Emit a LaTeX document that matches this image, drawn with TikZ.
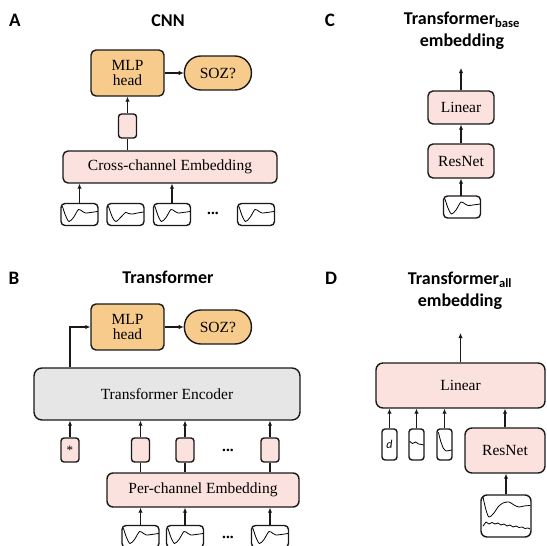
\documentclass[tikz,border=0pt]{standalone}
\usepackage{fontspec}
\setmainfont{Liberation Serif}
\newfontfamily\ttlfont{Carlito}
\usetikzlibrary{arrows.meta,positioning,calc}
\definecolor{pinkfill}{RGB}{252,226,222}
\definecolor{orangefill}{RGB}{247,203,140}
\definecolor{grayfill}{RGB}{230,230,230}
\definecolor{edge}{RGB}{25,25,25}
\tikzset{
  blk/.style={
    draw=edge,
    line width=1.4pt,
    rounded corners=5pt,
    inner sep=0pt,
    align=center,
    font=\fontsize{15.5}{15}\selectfont
  },
  pinkblk/.style={blk, fill=pinkfill},
  orgblk/.style={blk, fill=orangefill},
  soz/.style={orgblk, rounded corners=16.5pt, minimum width=67, minimum height=34},
  tok/.style={draw=edge, line width=1.4pt, rounded corners=3pt, fill=pinkfill, minimum width=18, minimum height=24, inner sep=0pt},
  sig/.style={draw=edge, line width=1.4pt, rounded corners=4pt, fill=white, minimum width=37, minimum height=22, inner sep=0pt},
  feat/.style={sig, minimum width=15, minimum height=31, rounded corners=3pt},
  wave/.style={line width=0.8pt, line join=round, line cap=round},
  ttl/.style={font=\ttlfont\bfseries\fontsize{18}{21.5}\selectfont, align=center, inner sep=0pt},
  plbl/.style={font=\ttlfont\bfseries\fontsize{19}{22}\selectfont, inner sep=0pt},
  flow/.style={-{Latex[length=5pt,width=4.5pt]}, line width=1.1pt, draw=edge},
  link/.style={line width=1.1pt, draw=edge},
  dots/.style={font=\bfseries\fontsize{15.5}{17}\selectfont, inner sep=0pt},
}
\newcommand{\SigBox}[2]{%
  \node[sig] (#1) at #2 {};
  \draw[wave, shift={(#1.center)}] plot[smooth, tension=0.5]
    coordinates {(-17,-8) (-14,1) (-10.5,7) (-6,3) (-1,-5) (3,-3) (6,-1.5) (11,-2) (18,-3)};
}

\begin{document}
\begin{tikzpicture}[x=1pt,y=-1pt]
  \useasboundingbox (0,0) rectangle (547,546);
  % A: CNN
  \node[plbl] (lblA) at (15,20) {A};
  \node[ttl] (ttlA) at (168,21) {CNN};
  \node[orgblk, minimum width=73, minimum height=46] (mlpA) at (127.5,73) {MLP\\head};
  \node[soz, right=19 of mlpA] (sozA) {SOZ?};
  \node[tok] (tokA) at (127.5,126) {};
  \node[pinkblk, minimum width=214, minimum height=32] (embA) at (170,167) {Cross-channel Embedding};
  \SigBox{sA1}{(79.5,214.5)}
  \node[sig] (sA2) at (125.5,214.5) {};
  \draw[wave, shift={(sA2.center)}] plot[smooth, tension=0.5]
    coordinates {(-17,-8) (-13,3) (-9.5,7) (-4,2) (0,-2) (3,-1) (7,-0.5) (12,-1.5) (18,-2.5)};
  \SigBox{sA3}{(172,214.5)}
  \SigBox{sA4}{(256,214.5)}
  \node[dots] (dotA) at (213,213) {...};
  \draw[flow] (mlpA) -- (sozA);
  \draw[flow] (tokA.north) -- (tokA.north |- mlpA.south);
  \draw[link] (tokA.south |- embA.north) -- (tokA.south);
  \draw[flow] (sA1.north) -- (sA1.north |- embA.south);
  \draw[flow] (sA3.north) -- (sA3.north |- embA.south);

  % C: base embedding
  \node[plbl] (lblC) at (330,20) {C};
  \node[ttl, anchor=north] (ttlC) at (462,12) {Transformer\textsubscript{base}\\embedding};
  \node[pinkblk, minimum width=66, minimum height=33] (linC) at (461,107.5) {Linear};
  \node[pinkblk, minimum width=66, minimum height=34] (resC) at (461,161) {ResNet};
  \SigBox{sC}{(462,207)}
  \coordinate (outC) at (461,68);
  \draw[flow] (linC.north) -- (outC);
  \draw[flow] (resC) -- (linC);
  \draw[flow] (sC.north) -- (sC.north -| resC.south) -- (resC.south);

  % B: Transformer
  \node[plbl] (lblB) at (14,278) {B};
  \node[ttl] (ttlB) at (168,277) {Transformer};
  \node[orgblk, minimum width=73, minimum height=46] (mlpB) at (127.5,327) {MLP\\head};
  \node[soz, right=19 of mlpB] (sozB) {SOZ?};
  \node[blk, fill=grayfill, rounded corners=8pt, minimum width=266, minimum height=52] (encB) at (167,394) {Transformer Encoder};
  \node[tok, font=\fontsize{13}{13}\selectfont] (starB) at (70,450) {*};
  \node[pinkblk, rounded corners=6pt, minimum width=192, minimum height=34] (perB) at (203,490) {Per-channel Embedding};
  \node[dots] (dotB1) at (228,450) {...};
  \node[dots] (dotB2) at (228,537) {...};
  \draw[flow] (mlpB) -- (sozB);
  \draw[flow] (encB.north -| starB) |- (mlpB.west);
  \draw[flow] (starB.north) -- (starB.north |- encB.south);
  \foreach \x [count=\i] in {140.5,185,270} {
    \node[tok] (tB\i) at (\x,450) {};
    \SigBox{sB\i}{(\x,536.5)}
    \draw[flow] (tB\i.north) -- (tB\i.north |- encB.south);
    \draw[link] (tB\i.south |- perB.north) -- (tB\i.south);
    \draw[flow] (sB\i.north) -- (sB\i.north |- perB.south);
  }

  % D: all embedding
  \node[plbl] (lblD) at (331,278) {D};
  \node[ttl, anchor=north] (ttlD) at (460,272) {Transformer\textsubscript{all}\\embedding};
  \node[pinkblk, rounded corners=7pt, minimum width=169, minimum height=45] (linD) at (460.5,385.5) {Linear};
  \node[pinkblk, rounded corners=7pt, minimum width=80, minimum height=45] (resD) at (505,450.5) {ResNet};
  \coordinate (outD) at (460.5,333);
  \node[feat, font=\ttlfont\itshape\fontsize{12}{12}\selectfont] (fD1) at (389.5,444.5) {d};
  \node[feat] (fD2) at (416.5,444.5) {};
  \node[feat] (fD3) at (444.5,444.5) {};
  \draw[wave, shift={(fD2.center)}] plot[smooth, tension=0.5]
    coordinates {(-6.5,-3) (-4,-1) (-1,-2.5) (2,-0.5) (5,0) (7,0.5)};
  \draw[wave, shift={(fD3.center)}] plot[smooth, tension=0.5]
    coordinates {(-6,-12) (-4,-4) (-1,4) (2,6.5) (5,6) (7,5.5)};
  \node[sig, minimum width=50, minimum height=42, rounded corners=6pt] (sD) at (506,516) {};
  \draw[wave, shift={(sD.center)}] plot[smooth, tension=0.5]
    coordinates {(-23,-19) (-20,-6) (-17,1) (-12,-3) (-8,-9) (-3,-13) (3,-14) (8,-11) (13,-9) (18,-10) (24,-10.5)};
  \draw[wave, shift={(sD.center)}] plot
    coordinates {(-23,10) (-20,6) (-17,8) (-14,6.5) (-11,8) (-8,7) (-5,9) (-2,8) (1,10) (4,9) (7,11) (10,10) (13,11.5) (16,11) (19,12.5) (22,12) (24,13)};
  \draw[flow] (linD.north) -- (outD);
  \foreach \n in {fD1,fD2,fD3,resD} {
    \draw[flow] (\n.north) -- (\n.north |- linD.south);
  }
  \draw[flow] (sD.north) -- (sD.north |- resD.south);
\end{tikzpicture}
\end{document}
